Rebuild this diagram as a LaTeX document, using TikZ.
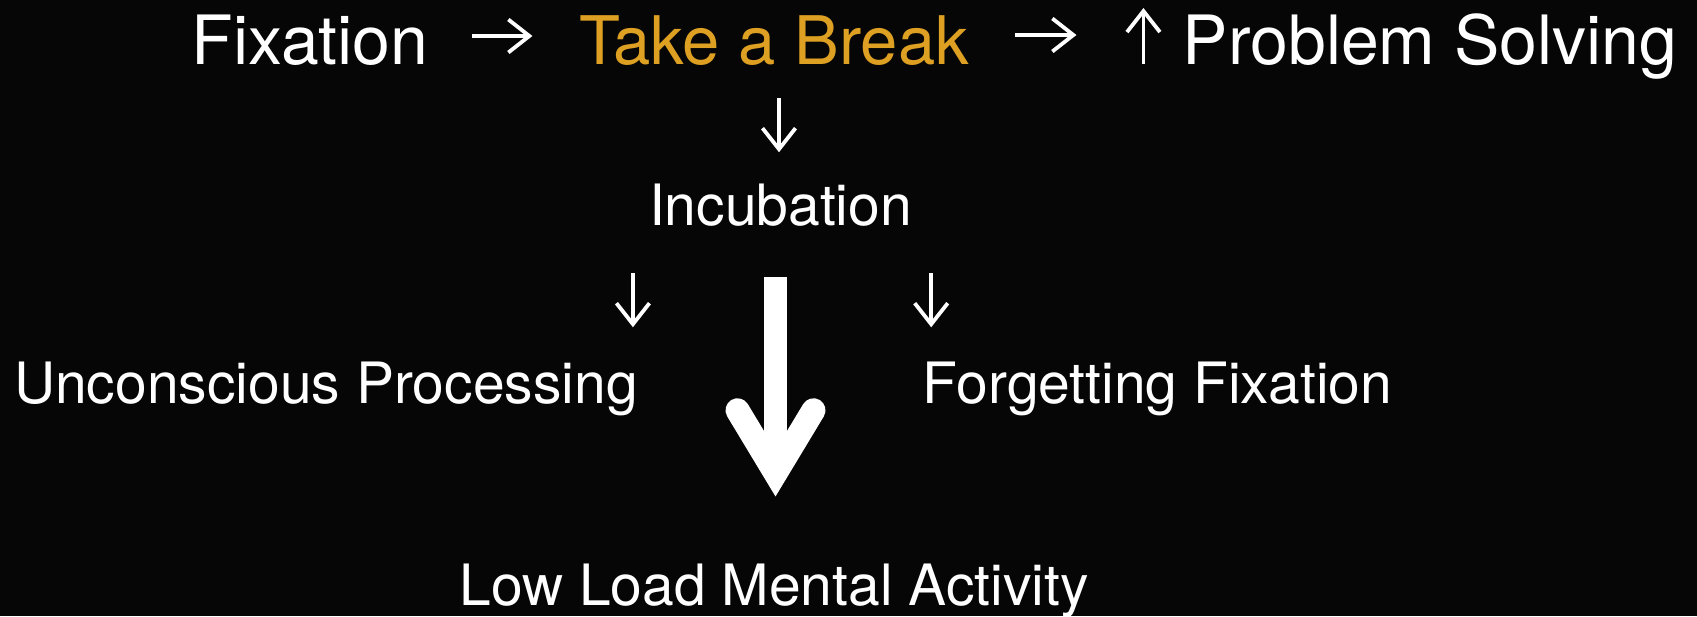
\documentclass[tikz,border=0pt]{standalone}
\usepackage{fontspec}
\setmainfont{TeX Gyre Heros}
\usepackage{tikz}
\usetikzlibrary{arrows.meta,calc,positioning}
\definecolor{breakorange}{RGB}{222,160,34}
\definecolor{slidebg}{RGB}{6,6,6}
\tikzset{
  toptext/.style={text=white, inner sep=0pt, anchor=base, font=\fontsize{68}{80}\selectfont},
  steptext/.style={text=white, inner sep=0pt, anchor=base, font=\fontsize{57}{68}\selectfont},
  thinarrow/.style={white, line width=3.8pt, -{Straight Barb[length=21pt,width=33pt,sharp]}},
  bigshaft/.style={white, line width=23pt},
  bighead/.style={white, line width=24pt, line cap=round, line join=miter},
}

\begin{document}
\begin{tikzpicture}[x=1pt,y=-1pt]
    \fill[slidebg] (0,0) rectangle (1697,616);
    \useasboundingbox (0,0) rectangle (1697,616);
    % top row
    \node[toptext] (fix) at (310,64) {Fixation};
    \node[toptext, text=breakorange, font=\fontsize{67}{80}\selectfont] (take) at (774,64) {Take a Break};
    \node[toptext] (prob) at (1430,64) {Problem Solving};
    \draw[thinarrow] ($(fix.base east)+(43,-28)$) -- ($(take.base west)+(-46.5,-28)$);
    \draw[thinarrow] ($(take.base east)+(46,-29)$) -- ($(prob.base west)+(-106,-29)$);
    \draw[thinarrow] ($(prob.base west)+(-39,0)$) coordinate (more) -- ++(0,-56);
    % incubation and its two routes
    \node[steptext] (incub) at (780.5,225) {Incubation};
    \node[steptext] (unc) at (326,403) {Unconscious Processing};
    \node[steptext] (forg) at (1157.5,403) {Forgetting Fixation};
    \node[steptext] (low) at (774,605) {Low Load Mental Activity};
    \draw[thinarrow] ($(take.base)+(5,34)$) -- ($(incub.north)+(-1.5,-31)$);
    \draw[thinarrow] ($(incub.south -| unc.east)+(-5,47)$) -- ($(unc.north east)+(-5,-34)$);
    \draw[thinarrow] ($(incub.south -| forg.west)+(8.5,47)$) -- ($(forg.north west)+(8.5,-34)$);
    % big arrow down to low load activity
    \draw[bigshaft] ($(incub.south -| low.base)+(1.5,51)$) -- ($(low.north)+(1.5,-90)$) coordinate (bigv);
    \draw[bighead] ($(bigv)+(-38,-63)$) -- (bigv) -- ($(bigv)+(38,-63)$);
\end{tikzpicture}
\end{document}
